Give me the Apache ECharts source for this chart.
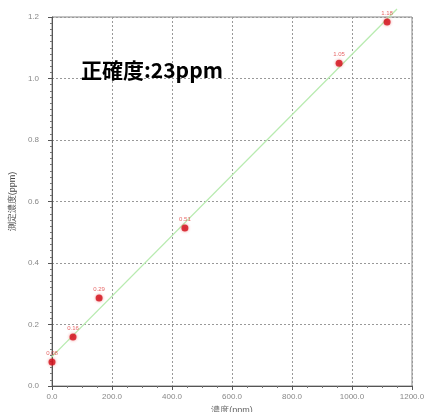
<!DOCTYPE html>
<html>
<head>
<meta charset="utf-8">
<script src="https://cdn.jsdelivr.net/npm/echarts@6/dist/echarts.min.js"></script>
<style>
  html, body { margin: 0; padding: 0; background: #fff; }
  #chart { width: 432px; height: 412px; }
</style>
</head>
<body>
<div id="chart"></div>
<script>
// 読み取った値
var xValues = [0, 70, 157, 443, 957, 1117]
var yValues = [0.078, 0.159, 0.286, 0.514, 1.050, 1.184]
var xTicks = [0, 200, 400, 600, 800, 1000, 1200]
var yTicks = [0, 0.2, 0.4, 0.6, 0.8, 1.0, 1.2]
var fitRange = [-35, 1150]
var titleText = '正確度:23ppm'

// 最小二乗法で近似直線
var n = xValues.length
var sx = 0, sy = 0, sxx = 0, sxy = 0
for (var i = 0; i < n; i++) {
  sx += xValues[i]; sy += yValues[i]
  sxx += xValues[i] * xValues[i]; sxy += xValues[i] * yValues[i]
}
var slope = (n * sxy - sx * sy) / (n * sxx - sx * sx)
var intercept = (sy - slope * sx) / n
var fitLine = fitRange.map(function (x) { return [x, intercept + slope * x] })

var points = xValues.map(function (x, i) { return [x, yValues[i]] })

var myChart = echarts.init(document.getElementById('chart'))

var option = {
  animation: false,
  grid: {
    left: 52, right: 20, top: 17, bottom: 26,
    outerBoundsMode: 'none',
    show: true,
    borderColor: '#888',
    borderWidth: 1
  },
  title: {
    text: titleText,
    left: 76, top: 55,
    textStyle: { fontSize: 21, fontWeight: 'bold', color: '#000', fontFamily: 'Noto Sans CJK JP' }
  },
  xAxis: {
    type: 'value',
    min: xTicks[0], max: xTicks[xTicks.length - 1], interval: 200,
    name: '濃度(ppm)',
    nameLocation: 'middle',
    nameGap: 20,
    nameTextStyle: { fontSize: 9, color: '#666' },
    axisLine: { lineStyle: { color: '#555' } },
    axisTick: { length: 4, lineStyle: { color: '#555' } },
    minorTick: { show: true, splitNumber: 4, length: 2, lineStyle: { color: '#777' } },
    axisLabel: {
      fontSize: 8, color: '#888', margin: 7,
      formatter: function (v) { return v.toFixed(1) }
    },
    splitLine: { lineStyle: { color: '#999', type: [2, 2] } }
  },
  yAxis: {
    type: 'value',
    min: yTicks[0], max: yTicks[yTicks.length - 1], interval: 0.2,
    name: '測定濃度(ppm)',
    nameLocation: 'middle',
    nameGap: 34,
    nameRotate: 90,
    nameTextStyle: { fontSize: 9, color: '#444' },
    axisLine: { lineStyle: { color: '#555' } },
    axisTick: { length: 4, lineStyle: { color: '#555' } },
    minorTick: { show: true, splitNumber: 10, length: 2, lineStyle: { color: '#777' } },
    axisLabel: {
      fontSize: 8, color: '#888', margin: 13,
      formatter: function (v) { return v.toFixed(1) }
    },
    splitLine: { lineStyle: { color: '#999', type: [2, 2] } }
  },
  series: [
    {
      name: '近似',
      type: 'line',
      data: fitLine,
      symbol: 'none',
      clip: false,
      z: 1,
      lineStyle: { color: '#b8ebb0', width: 1.3 }
    },
    {
      name: '測定',
      type: 'scatter',
      data: points,
      symbol: 'circle',
      symbolSize: 7,
      z: 3,
      itemStyle: { color: '#d2101c', shadowBlur: 3, shadowColor: 'rgba(230,40,40,0.6)' },
      label: {
        show: true,
        position: 'top',
        distance: 2,
        fontSize: 6,
        color: '#e04040',
        formatter: function (p) { return p.value[1].toFixed(2) }
      }
    }
  ]
}

myChart.setOption(option)
</script>
</body>
</html>
